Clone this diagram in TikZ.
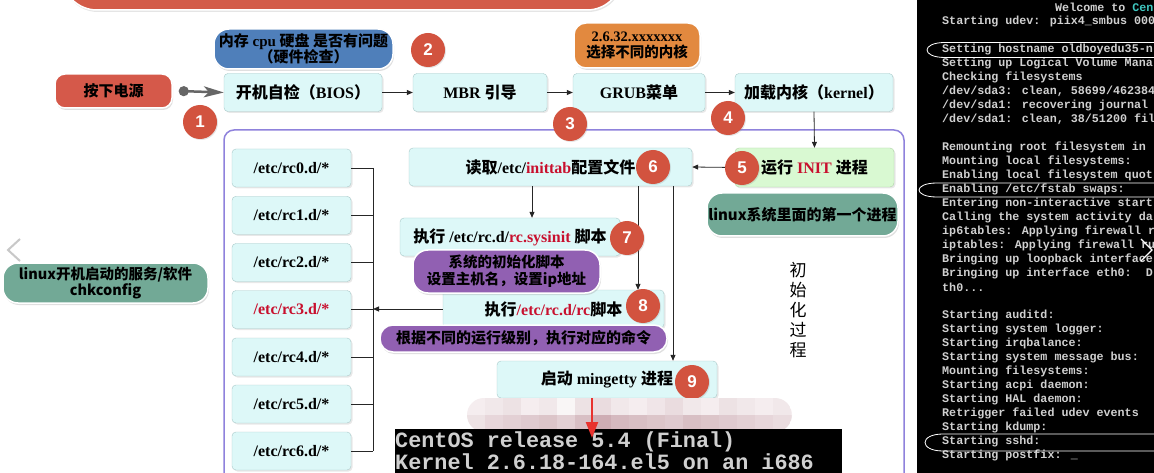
\documentclass[tikz,border=0pt]{standalone}
\usepackage{fontspec}
\setmainfont{Liberation Serif}
\newfontfamily\cjk{Noto Sans CJK SC}
\newfontfamily\monofont{Liberation Mono}
\newfontfamily\numfont{Liberation Sans}
\usetikzlibrary{arrows.meta,shadows,calc}
\newcommand\zh[1]{{\cjk #1}}
\newcommand\redt[1]{\textcolor{redtxt}{#1}}
\definecolor{boxfill}{HTML}{DDF8F8}
\definecolor{boxline}{HTML}{A9C9C9}
\definecolor{initfill}{HTML}{D9F9D2}
\definecolor{initline}{HTML}{AFD2A8}
\definecolor{numred}{HTML}{D2533F}
\definecolor{btnred}{HTML}{D5594A}
\definecolor{bannerred}{HTML}{D35B48}
\definecolor{calblue}{HTML}{4F7FBA}
\definecolor{calorange}{HTML}{E2893F}
\definecolor{calteal}{HTML}{72A996}
\definecolor{calpurple}{HTML}{9160B2}
\definecolor{redtxt}{HTML}{C8102E}
\definecolor{framepurple}{HTML}{8F82DC}
\definecolor{contxt}{HTML}{D0D0D0}
\definecolor{concyan}{HTML}{3FC7C0}
\definecolor{arrowred}{HTML}{E8322E}
\definecolor{mos}{HTML}{B98A94}
\definecolor{chev}{HTML}{C8C8C8}
\newcommand\conl[3]{\node[con] (#1) at (942,{7.5+14*#2}) {#3};}
\newcommand\consring[3]{\draw[white, line width=0.8pt] (1160,{#1-#2}) -- (#3+20,{#1-#2}) .. controls (#3-4,{#1-#2}) and (#3-4,{#1+#2}) .. (#3+20,{#1+#2}) -- (1160,{#1+#2});}
\begin{document}
\begin{tikzpicture}[x=1pt,y=-1pt,
  box/.style={draw=boxline, fill=boxfill, rounded corners=4pt, minimum height=38pt, inner sep=0pt,
    font=\bfseries\fontsize{16}{18}\selectfont, text=black,
    drop shadow={opacity=0.18,shadow xshift=1.5pt,shadow yshift=-1.5pt}},
  callout/.style={draw=white, line width=1.5pt, rounded corners=15pt, inner sep=0pt, align=center,
    text=black, font=\bfseries\fontsize{14.5}{16.5}\selectfont,
    drop shadow={opacity=0.25,shadow xshift=1pt,shadow yshift=-2pt}},
  numc/.style={circle, fill=numred, text=white, minimum size=34pt, inner sep=0pt,
    font=\numfont\bfseries\fontsize{17}{17}\selectfont,
    drop shadow={opacity=0.2,shadow xshift=1pt,shadow yshift=-1pt}},
  arr/.style={-{Triangle[length=6pt,width=5pt]}, line width=0.8pt, draw=black!85},
  busline/.style={line width=0.8pt, draw=black!85},
  con/.style={anchor=west, inner sep=0pt, text=contxt, font=\monofont\bfseries\fontsize{11.7}{12}\selectfont},
  bigcon/.style={anchor=west, inner sep=0pt, text=contxt, font=\monofont\bfseries\fontsize{21.8}{22}\selectfont}
]
\useasboundingbox (0,0) rectangle (1154,473);
\fill[white] (0,0) rectangle (1154,473);

% top banner
\draw[fill=bannerred, draw=white, line width=1.5pt, rounded corners=35pt,
  drop shadow={opacity=0.2,shadow xshift=1pt,shadow yshift=-2pt}] (62,-80) rectangle (622,10);

% main frame
\draw[framepurple, line width=1.5pt, rounded corners=10pt] (224,130) rectangle (904,500);

% left chevron
\draw[chev, line width=2pt] (20,239) -- (8,250) -- (20,261);

% boxes
\node[box, minimum width=158pt] (bios) at (303,92.5) {\zh{开机自检（}BIOS\zh{）}};
\node[box, minimum width=134pt] (mbr) at (480,92.5) {MBR \zh{引导}};
\node[box, minimum width=132pt] (grub) at (639,92.5) {GRUB\zh{菜单}};
\node[box, minimum width=158pt] (kernel) at (814,92.5) {\zh{加载内核（}kernel\zh{）}};
\node[box, fill=initfill, draw=initline, minimum width=159pt, minimum height=39pt] (init) at (814.5,167.5) {\zh{运行} \redt{INIT} \zh{进程}};
\node[box, minimum width=283pt] (inittab) at (550.5,167) {\zh{读取}/etc/\redt{inittab}\zh{配置文件}};
\node[box, minimum width=220pt] (sysinit) at (510,237) {\zh{执行} /etc/rc.d/\redt{rc.sysinit} \zh{脚本}};
\node[box, minimum width=221pt] (rc) at (553.5,309) {\zh{执行}\redt{/etc/rc.d/rc}\zh{脚本}};
\node[box, minimum width=220pt, minimum height=37pt] (mingetty) at (607,379.5) {\zh{启动} mingetty \zh{进程}};

% run level boxes
\node[box, minimum width=119pt] (rc0) at (291.5,168) {/etc/rc0.d/*};
\node[box, minimum width=119pt] (rc1) at (291.5,215.3) {/etc/rc1.d/*};
\node[box, minimum width=119pt] (rc2) at (291.5,262.5) {/etc/rc2.d/*};
\node[box, minimum width=119pt] (rc3) at (291.5,309.5) {\redt{/etc/rc3.d/*}};
\node[box, minimum width=119pt] (rc4) at (291.5,357) {/etc/rc4.d/*};
\node[box, minimum width=119pt] (rc5) at (291.5,404) {/etc/rc5.d/*};
\node[box, minimum width=119pt] (rc6) at (291.5,451) {/etc/rc6.d/*};
\coordinate (bus) at (373,168);

% power button
\node[callout, fill=btnred, minimum width=117pt, minimum height=34pt, rounded corners=10pt,
  font=\cjk\bfseries\fontsize{15}{17}\selectfont] (power) at (113.5,91) {按下电源};

% connectors
\draw[draw=black!60, line width=2.5pt, {Circle[length=10pt]}-{Stealth[length=20pt,width=11pt,inset=5pt]}]
  ([xshift=6pt]power.east) -- (bios.west);
\draw[arr] (bios.east) -- (mbr.west);
\draw[arr] (mbr.east) -- (grub.west);
\draw[arr] (grub.east) -- (kernel.west);
\draw[arr] (kernel.south) -- (init.north);
\draw[arr] (init.west) -- (inittab.east);
\draw[arr] ([xshift=-18.5pt]inittab.south) coordinate (t1) -- (t1 |- sysinit.north);
\draw[arr] ([xshift=87.5pt]inittab.south) coordinate (t2) -- (t2 |- rc.north);
\draw[arr] ([xshift=122.5pt]inittab.south) coordinate (t3) -- (t3 |- mingetty.north);
\draw[arr] (rc.west) -- (rc.west -| bus);
\draw[busline] (rc0.east -| bus) -- (rc6.east -| bus);
\foreach \r in {rc0,rc1,rc2,rc3,rc4,rc5,rc6}{
  \draw[busline] (\r.east) -- (\r.east -| bus);
}

% callouts
\node[callout, fill=calblue, minimum width=179pt, minimum height=40pt, font=\bfseries\fontsize{15}{16.5}\selectfont] (cpu) at (303.5,49)
  {\zh{内存} cpu \zh{硬盘 是否有问题}\\\zh{（硬件检查）}};
\node[callout, fill=calorange, minimum width=126pt, minimum height=45pt, rounded corners=12pt] (ver) at (637,45.5)
  {2.6.32.xxxxxxx\\\zh{选择不同的内核}};
\node[callout, fill=calteal, minimum width=191pt, minimum height=43pt, font=\cjk\bfseries\fontsize{15}{17}\selectfont] (first) at (802.5,214.5)
  {linux系统里面的第一个进程};
\node[callout, fill=calpurple, minimum width=187pt, minimum height=43pt, font=\cjk\bfseries\fontsize{14.5}{17}\selectfont] (c7) at (506.5,271.5)
  {系统的初始化脚本\\设置主机名，设置ip地址};
\node[callout, fill=calpurple, minimum width=287pt, minimum height=27pt, rounded corners=13pt, font=\cjk\bfseries\fontsize{15}{17}\selectfont] (c8) at (523.5,338.5)
  {根据不同的运行级别，执行对应的命令};
\node[callout, fill=calteal, minimum width=205pt, minimum height=40pt, font=\cjk\bfseries\fontsize{14.5}{16.5}\selectfont] (svc) at (105.5,283)
  {linux开机启动的服务/软件\\chkconfig};

% vertical label
\node[font=\cjk\fontsize{17}{20}\selectfont, align=center, inner sep=0pt] (proc) at (798,310) {初\\始\\化\\过\\程};

% number circles
\node[numc] (n1) at (200,122) {1};
\node[numc] (n2) at (428,50) {2};
\node[numc] (n3) at (570,124) {3};
\node[numc] (n4) at (728,118) {4};
\node[numc] (n5) at (742,168) {5};
\node[numc] (n6) at (653,167) {6};
\node[numc] (n7) at (627,238) {7};
\node[numc] (n8) at (643,306) {8};
\node[numc] (n9) at (692,382) {9};

% mosaic blur
\begin{scope}
\clip[rounded corners=17pt] (467,398) rectangle (792,432);
\foreach \c/\a/\b in {0/15/25,1/20/35,2/25/40,3/15/45,4/20/50,5/8/40,6/25/55,7/30/70,8/20/60,9/15/55,10/22/50,11/30/45,12/20/55,13/15/50,14/25/45,15/20/40,16/15/35,17/20/30,18/15/25}{
  \fill[mos!\a!white] ({467+18*\c},398) rectangle ({485+18*\c},415);
  \fill[mos!\b!white] ({467+18*\c},415) rectangle ({485+18*\c},432);
}
\end{scope}

% bottom console
\fill[black] (395,429) rectangle (842,480);
\node[bigcon] (k1) at (395,442) {CentOS release 5.4 (Final)};
\node[bigcon] (k2) at (395,462) {Kernel 2.6.18-164.el5 on an i686};
\coordinate (redtip) at (592,438);
\draw[draw=arrowred, line width=2.2pt, -{Triangle[length=16pt,width=12pt]}] ([xshift=-15pt]mingetty.south) -- (redtip);

% right console
\fill[black] (917,0) rectangle (1154,473);
\begin{scope}
\clip (917,0) rectangle (1154,473);
\node[con] (cl0) at (1055,7.5) {Welcome to \textcolor{concyan}{Cen}};
\conl{cl1}{1}{Starting udev: piix4\_smbus 000}
\conl{cl3}{3}{Setting hostname oldboyedu35-n}
\conl{cl4}{4}{Setting up Logical Volume Mana}
\conl{cl5}{5}{Checking filesystems}
\conl{cl6}{6}{/dev/sda3: clean, 58699/462384}
\conl{cl7}{7}{/dev/sda1: recovering journal}
\conl{cl8}{8}{/dev/sda1: clean, 38/51200 fil}
\conl{cl10}{10}{Remounting root filesystem in}
\conl{cl11}{11}{Mounting local filesystems:}
\conl{cl12}{12}{Enabling local filesystem quot}
\conl{cl13}{13}{Enabling /etc/fstab swaps:}
\conl{cl14}{14}{Entering non-interactive start}
\conl{cl15}{15}{Calling the system activity da}
\conl{cl16}{16}{ip6tables: Applying firewall r}
\conl{cl17}{17}{iptables: Applying firewall ru}
\conl{cl18}{18}{Bringing up loopback interface}
\conl{cl19}{19}{Bringing up interface eth0:\ \ D}
\conl{cl20}{20}{th0...}
\conl{cl22}{22}{Starting auditd:}
\conl{cl23}{23}{Starting system logger:}
\conl{cl24}{24}{Starting irqbalance:}
\conl{cl25}{25}{Starting system message bus:}
\conl{cl26}{26}{Mounting filesystems:}
\conl{cl27}{27}{Starting acpi daemon:}
\conl{cl28}{28}{Starting HAL daemon:}
\conl{cl29}{29}{Retrigger failed udev events}
\conl{cl30}{30}{Starting kdump:}
\conl{cl31}{31}{Starting sshd:}
\conl{cl32}{32}{Starting postfix: \_}
\consring{50}{7.5}{925}
\consring{190}{7}{917}
\consring{442.5}{8.5}{923}
\draw[white, line width=1.2pt] (1141,239) -- (1152,250) -- (1141,261);
\end{scope}
\end{tikzpicture}
\end{document}
